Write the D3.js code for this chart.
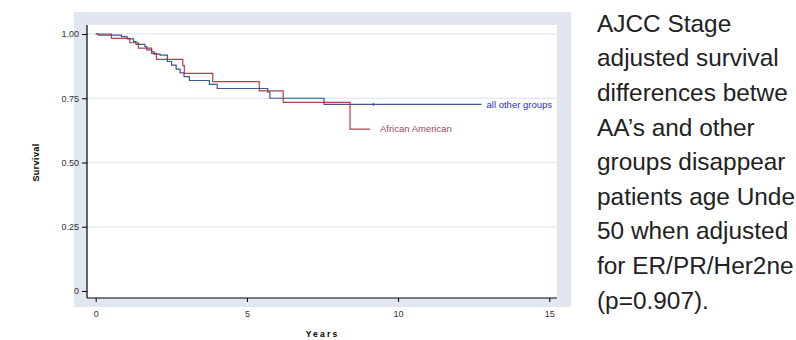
<!DOCTYPE html>
<html>
<head>
<meta charset="utf-8">
<script src="https://cdn.jsdelivr.net/npm/d3@7"></script>
<style>
  body { margin: 0; background: #fff; }
  svg { display: block; font-family: "Liberation Sans", Arial, sans-serif; }
</style>
</head>
<body>
<div id="chart"></div>
<script>
// axis ticks
const xTicks = [0, 5, 10, 15];
const yTicks = [0, 0.25, 0.5, 0.75, 1];
const yTickLabels = ["0", "0.25", "0.50", "0.75", "1.00"];

// Kaplan-Meier steps
const otherYears = [0, 0.09, 0.85, 1.04, 1.25, 1.33, 1.63, 1.69, 1.85, 1.93, 2.13, 2.37, 2.51, 2.66, 2.79, 2.92, 3.10, 3.76, 4.02, 5.69, 5.76, 7.55, 12.76];
const otherSurvival = [1.0, 0.996, 0.990, 0.981, 0.970, 0.960, 0.951, 0.938, 0.931, 0.922, 0.918, 0.893, 0.879, 0.863, 0.849, 0.834, 0.819, 0.804, 0.788, 0.775, 0.750, 0.726, 0.726];
const otherCensored = [9.18];

const aaYears = [0, 0.52, 1.13, 1.41, 1.85, 2.01, 2.88, 2.93, 3.87, 5.41, 6.20, 8.41, 9.07];
const aaSurvival = [1.0, 0.983, 0.966, 0.945, 0.925, 0.901, 0.877, 0.847, 0.815, 0.779, 0.734, 0.630, 0.630];

const seriesNames = ["all other groups", "African American"];

// the slide text runs off the right edge in the original, keep what is visible
const noteLines = [
    "AJCC Stage",
    "adjusted survival",
    "differences betwe",
    "AA\u2019s and other",
    "groups disappear",
    "patients age Unde",
    "50 when adjusted",
    "for ER/PR/Her2ne",
    "(p=0.907)."
];

const W = 796, H = 340;
const svg = d3.select("#chart")
    .append("svg")
    .attr("width", W)
    .attr("height", H);

// stata-ish graph region and plot region
svg.append("rect")
    .attr("x", 74).attr("y", 12)
    .attr("width", 571 - 74).attr("height", 307 - 12)
    .attr("fill", "#e1e6f0");
svg.append("rect")
    .attr("x", 87).attr("y", 25)
    .attr("width", 557 - 87).attr("height", 298 - 25)
    .attr("fill", "#fff");

const x = d3.scaleLinear()
    .domain([0, 15])
    .range([95.7, 549.3]);
const y = d3.scaleLinear()
    .domain([0, 1])
    .range([291, 34]);

// gridlines
svg.append("g")
    .selectAll("line")
    .data(yTicks.filter(d => d > 0))
    .join("line")
    .attr("x1", 87).attr("x2", 557)
    .attr("y1", d => y(d)).attr("y2", d => y(d))
    .attr("stroke", "#e6eaf2")
    .attr("stroke-width", 1.5);

// X axis
const xAxis = svg.append("g")
    .attr("transform", "translate(0, 298)")
    .call(d3.axisBottom(x).tickValues(xTicks).tickSize(4).tickPadding(9));
xAxis.select(".domain").remove();
xAxis.append("line")
    .attr("x1", 87).attr("x2", 557)
    .attr("stroke", "#000").attr("stroke-width", 1.2);
xAxis.selectAll(".tick line").attr("stroke", "#000");
xAxis.selectAll(".tick text")
    .attr("fill", "#333")
    .style("font-size", "9px");

// Y axis
const yAxis = svg.append("g")
    .attr("transform", "translate(87, 0)")
    .call(d3.axisLeft(y).tickValues(yTicks).tickSize(5).tickPadding(3)
        .tickFormat((d, i) => yTickLabels[i]));
yAxis.select(".domain").remove();
yAxis.append("line")
    .attr("y1", 25).attr("y2", 298)
    .attr("stroke", "#000").attr("stroke-width", 1.2);
yAxis.selectAll(".tick line").attr("stroke", "#000");
yAxis.selectAll(".tick text")
    .attr("fill", "#333")
    .style("font-size", "9px");

// axis titles
svg.append("text")
    .attr("text-anchor", "middle")
    .attr("transform", `translate(39, ${(y(0) + y(1)) / 2}) rotate(-90)`)
    .style("font-size", "9px")
    .style("font-weight", "bold")
    .style("letter-spacing", "0.4px")
    .text("Survival");
svg.append("text")
    .attr("text-anchor", "middle")
    .attr("x", (x(0) + x(15)) / 2)
    .attr("y", 337)
    .style("font-size", "8.5px")
    .style("font-weight", "bold")
    .style("letter-spacing", "2.2px")
    .text("Years");

// survival curves
const step = d3.line()
    .x(d => x(d[0]))
    .y(d => y(d[1]))
    .curve(d3.curveStepAfter);

const curves = [
    {name: seriesNames[0], pts: d3.zip(otherYears, otherSurvival), color: "#2c4283", label: "#2f2fb0"},
    {name: seriesNames[1], pts: d3.zip(aaYears, aaSurvival), color: "#a3303a", label: "#a4465f"}
];

svg.append("g")
    .selectAll("path")
    .data(curves)
    .join("path")
    .attr("d", d => step(d.pts))
    .attr("fill", "none")
    .attr("stroke", d => d.color)
    .attr("stroke-width", 1.2)
    .attr("stroke-opacity", 0.9);

// censor tick on the blue curve
function survAt(t) {
    let s = otherSurvival[0];
    otherYears.forEach((yr, i) => { if (yr <= t) s = otherSurvival[i]; });
    return s;
}
svg.append("g")
    .selectAll("line")
    .data(otherCensored)
    .join("line")
    .attr("x1", d => x(d)).attr("x2", d => x(d))
    .attr("y1", d => y(survAt(d)) - 1.5)
    .attr("y2", d => y(survAt(d)) + 1.5)
    .attr("stroke", "#2c4283");

// end-of-line labels
svg.append("text")
    .attr("x", x(otherYears[otherYears.length - 1]) + 5)
    .attr("y", y(otherSurvival[otherSurvival.length - 1]))
    .attr("dy", "0.35em")
    .attr("fill", curves[0].label)
    .style("font-size", "9.5px")
    .text(seriesNames[0]);
svg.append("text")
    .attr("x", x(aaYears[aaYears.length - 1]) + 10)
    .attr("y", y(aaSurvival[aaSurvival.length - 1]))
    .attr("dy", "0.35em")
    .attr("fill", curves[1].label)
    .style("font-size", "9.5px")
    .text(seriesNames[1]);

// side note
svg.append("g")
    .selectAll("text")
    .data(noteLines)
    .join("text")
    .attr("x", 597)
    .attr("y", (d, i) => 31.7 + i * 34.6)
    .attr("fill", "#222")
    .style("font-size", "24.4px")
    .text(d => d);
</script>
</body>
</html>
